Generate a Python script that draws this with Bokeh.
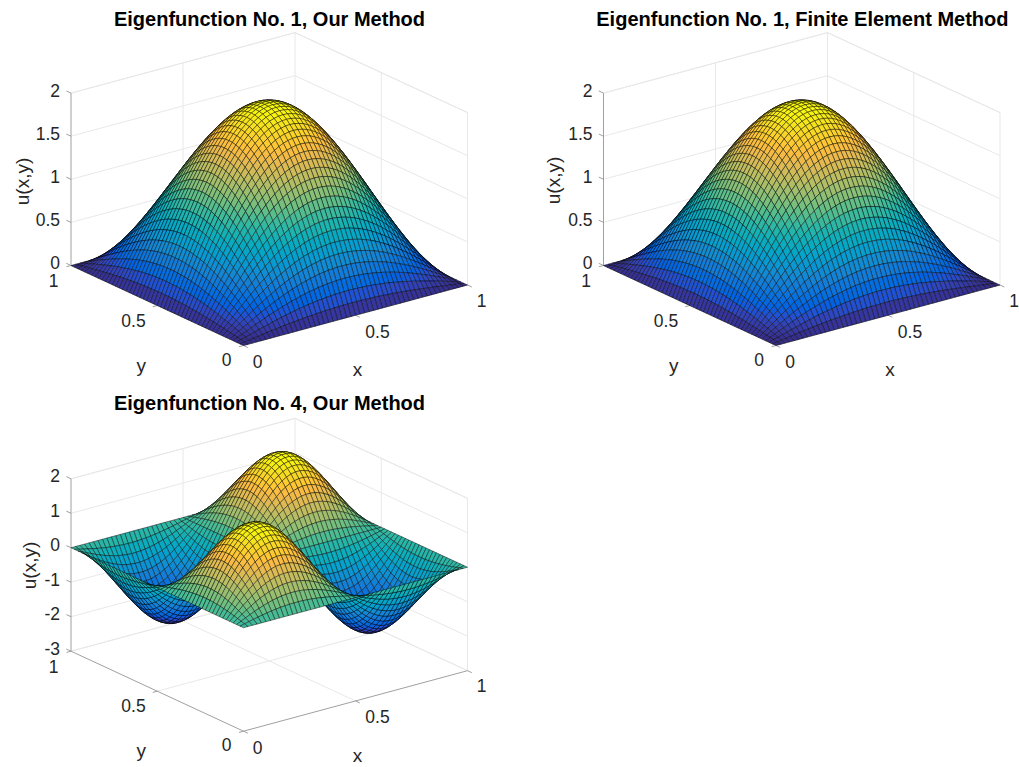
import numpy as np
from bokeh.plotting import figure
from bokeh.layouts import column, row
from bokeh.models import Range1d, ColumnDataSource
from bokeh.core.properties import value
from bokeh.embed import file_html
from bokeh.resources import INLINE

# ---- values ----
titles = ["Eigenfunction No. 1, Our Method",
          "Eigenfunction No. 1, Finite Element Method",
          "Eigenfunction No. 4, Our Method"]
x_ticks = [0, 0.5, 1]
y_ticks = [0, 0.5, 1]
x_tick_labels = ["0", "0.5", "1"]
y_tick_labels = ["0", "0.5", "1"]
z_ticks_mode1 = [0, 0.5, 1, 1.5, 2]
z_tick_labels_mode1 = ["0", "0.5", "1", "1.5", "2"]
z_ticks_mode4 = [-3, -2, -1, 0, 1, 2]
z_tick_labels_mode4 = ["-3", "-2", "-1", "0", "1", "2"]

# height of the surface along its centre ridge, one value per mesh line
half_ridge_mode1 = [0.000, 0.126, 0.251, 0.375, 0.497, 0.618, 0.736, 0.852, 0.964, 1.072,
                    1.176, 1.275, 1.369, 1.458, 1.541, 1.618, 1.689, 1.753, 1.810, 1.860,
                    1.902, 1.937, 1.965, 1.984, 1.996, 2.000]
ridge_our_mode1 = half_ridge_mode1 + half_ridge_mode1[-2::-1]
ridge_fem_mode1 = half_ridge_mode1 + half_ridge_mode1[-2::-1]
half_ridge_mode4 = [0.000, 0.251, 0.497, 0.736, 0.964, 1.176, 1.369, 1.541, 1.689, 1.810, 1.902,
                    1.965, 1.996, 1.996, 1.965, 1.902, 1.810, 1.689, 1.541, 1.369, 1.176, 0.964,
                    0.736, 0.497, 0.251, 0.000]
ridge_our_mode4 = half_ridge_mode4 + [-v for v in half_ridge_mode4[-2::-1]]

PARULA = [(0.2081, 0.1663, 0.5292), (0.2123, 0.2138, 0.6270), (0.1959, 0.2645, 0.7279),
          (0.1253, 0.3242, 0.8303), (0.0117, 0.3875, 0.8820), (0.0165, 0.4266, 0.8786),
          (0.0498, 0.4586, 0.8641), (0.0723, 0.4887, 0.8467), (0.0793, 0.5200, 0.8312),
          (0.0641, 0.5570, 0.8240), (0.0343, 0.5966, 0.8199), (0.0239, 0.6287, 0.8038),
          (0.0228, 0.6535, 0.7768), (0.0384, 0.6743, 0.7436), (0.0843, 0.6928, 0.7062),
          (0.1453, 0.7098, 0.6646), (0.2178, 0.7250, 0.6193), (0.3022, 0.7376, 0.5712),
          (0.3953, 0.7459, 0.5244), (0.4871, 0.7491, 0.4840), (0.5709, 0.7485, 0.4494),
          (0.6473, 0.7456, 0.4188), (0.7184, 0.7411, 0.3905), (0.7858, 0.7356, 0.3633),
          (0.8507, 0.7299, 0.3360), (0.9139, 0.7258, 0.3063), (0.9739, 0.7314, 0.2666),
          (0.9990, 0.7653, 0.2164), (0.9880, 0.8066, 0.1794), (0.9697, 0.8481, 0.1475),
          (0.9589, 0.8949, 0.1132), (0.9661, 0.9514, 0.0755), (0.9763, 0.9831, 0.0538)]
PARULA = np.array(PARULA)

FONT = "Liberation Sans"
TXT = "#262626"
TITLE_H = 29


def colour(t):
    t = np.clip(t, 0, 1)
    pos = np.linspace(0, 1, len(PARULA))
    rgb = [np.interp(t, pos, PARULA[:, i]) for i in range(3)]
    return "#%02x%02x%02x" % tuple(int(round(255 * c)) for c in rgb)


def panel(title, ridge, z_ticks, z_labels, zmin, zmax, clim, left, width, top, height, dx, y_front,
          zlab_x, zlab_y, align="center", offset=0):
    frame_top = top + TITLE_H
    frame_h = height - TITLE_H
    p = figure(frame_width=width, frame_height=frame_h, min_border=0, min_border_top=TITLE_H,
               toolbar_location=None,
               output_backend="svg", x_axis_location=None, y_axis_location=None,
               x_range=Range1d(left, left + width),
               y_range=Range1d(top + height, frame_top),
               title=title, outline_line_color=None)
    p.grid.visible = False
    p.title.text_font = FONT
    p.title.text_font_style = "bold"
    p.title.text_font_size = "20px"
    p.title.text_color = "#000000"
    p.title.align = align
    p.title.offset = offset
    p.title.standoff = 0

    zs = 172.4 / (zmax - zmin)

    def proj(x, y, z):
        x, y, z = np.asarray(x, float), np.asarray(y, float), np.asarray(z, float)
        return (243.0 + dx + 224.0 * x - 172.5 * y,
                y_front - 60.5 * x - 80.0 * y - zs * (z - zmin))

    # walls and floor gridlines
    gx, gy = [], []
    def seg(a, b):
        sx, sy = proj(*zip(a, b))
        gx.append(list(sx)); gy.append(list(sy))
    for z in z_ticks:
        seg((0, 1, z), (1, 1, z)); seg((1, 1, z), (1, 0, z))
    for t in (0.5, 1):
        seg((t, 1, zmin), (t, 1, zmax))
    for t in (0, 0.5):
        seg((1, t, zmin), (1, t, zmax))
    seg((0.5, 0, zmin), (0.5, 1, zmin)); seg((0, 0.5, zmin), (1, 0.5, zmin))
    seg((0, 1, zmin), (1, 1, zmin)); seg((1, 1, zmin), (1, 0, zmin))
    seg((0, 1, zmax), (1, 1, zmax)); seg((1, 1, zmax), (1, 0, zmax))
    p.multi_line(gx, gy, line_color="#e8e8e8", line_width=1)

    # axis lines and tick marks
    ax, ay = [], []
    def aseg(a, b):
        sx, sy = proj(*zip(a, b))
        ax.append(list(sx)); ay.append(list(sy))
    aseg((0, 1, zmin), (0, 1, zmax))
    aseg((0, 1, zmin), (0, 0, zmin)); aseg((0, 0, zmin), (1, 0, zmin))
    for t in x_ticks:
        aseg((t, 0, zmin), (t, -0.025, zmin))
    for t in y_ticks:
        aseg((0, t, zmin), (-0.02, t, zmin))
    for z in z_ticks:
        aseg((0, 1, z), (0, 1.027, z))
    p.multi_line(ax, ay, line_color="#959595", line_width=0.9)

    # surface, drawn back to front
    r = np.asarray(ridge, float)
    peak = np.abs(r).max()
    n = len(r)
    grid = np.linspace(0, 1, n)
    Z = np.outer(r, r) / peak        # Z[i, j]: x index i, y index j
    cells = [(60.5 * (i + 0.5) + 80.0 * (j + 0.5), i, j) for i in range(n - 1) for j in range(n - 1)]
    cells.sort(reverse=True)
    xs, ys, cols = [], [], []
    for _, i, j in cells:
        ci, cj = [i, i + 1, i + 1, i], [j, j, j + 1, j + 1]
        sx, sy = proj(grid[ci], grid[cj], Z[ci, cj])
        xs.append(sx.round(2).tolist()); ys.append(sy.round(2).tolist())
        cols.append(colour((Z[ci, cj].mean() - clim[0]) / (clim[1] - clim[0])))
    p.patches("xs", "ys", source=ColumnDataSource(dict(xs=xs, ys=ys, c=cols)), fill_color="c",
              line_color="#000000", line_alpha=0.62, line_width=0.7)

    # tick labels
    tx, ty, tl = [], [], []
    off_x = {0: (14, 16), 0.5: (22, 16), 1: (14, 15)}
    for t, lab in zip(x_ticks, x_tick_labels):
        sx, sy = proj(t, 0, zmin)
        tx.append(float(sx) + off_x[t][0]); ty.append(float(sy) + off_x[t][1]); tl.append(lab)
    off_y = {0: (-17, 13.5), 0.5: (-23.75, 14.5), 1: (-17.5, 15)}
    for t, lab in zip(y_ticks, y_tick_labels):
        sx, sy = proj(0, t, zmin)
        tx.append(float(sx) + off_y[t][0]); ty.append(float(sy) + off_y[t][1]); tl.append(lab)
    style = dict(text_font=value(FONT), text_font_size="17.5px", text_color=TXT)
    p.text(tx, ty, text=tl, text_align="center", text_baseline="middle", **style)
    zx, zy = [], []
    for z in z_ticks:
        sx, sy = proj(0, 1, z)
        zx.append(float(sx) - 11); zy.append(float(sy) - 3)
    p.text(zx, zy, text=z_labels, text_align="right", text_baseline="middle", **style)

    # axis names
    fx, fy = proj(0.5, 0, zmin)
    p.text([float(fx) + 2], [float(fy) + 54.5], text=["x"], text_align="center", text_baseline="middle",
           text_font=value(FONT), text_font_size="19px", text_color=TXT)
    gxp, gyp = proj(0, 0.5, zmin)
    p.text([float(gxp) - 16], [float(gyp) + 59.5], text=["y"], text_align="center", text_baseline="middle",
           text_font=value(FONT), text_font_size="19px", text_color=TXT)
    p.text([zlab_x], [zlab_y], text=["u(x,y)"], angle=np.pi / 2, text_align="center", text_baseline="middle",
           text_font=value(FONT), text_font_size="19px", text_color=TXT)
    return p


p1 = panel(titles[0], ridge_our_mode1, z_ticks_mode1, z_tick_labels_mode1, 0, 2, (0, 2),
           0, 538, 0, 384, 0, 345.0, 22, 181)
p2 = panel(titles[1], ridge_fem_mode1, z_ticks_mode1, z_tick_labels_mode1, 0, 2, (0, 2),
           538, 481, 0, 384, 532.5, 345.0, 553, 180, align="right", offset=11)
p3 = panel(titles[2], ridge_our_mode4, z_ticks_mode4, z_tick_labels_mode4, -3, 2, (-2, 2),
           0, 538, 384, 382, 0, 730.7, 29, 565)

page = column(row(p1, p2), p3)
open("out.html", "w").write(file_html(page, INLINE))
